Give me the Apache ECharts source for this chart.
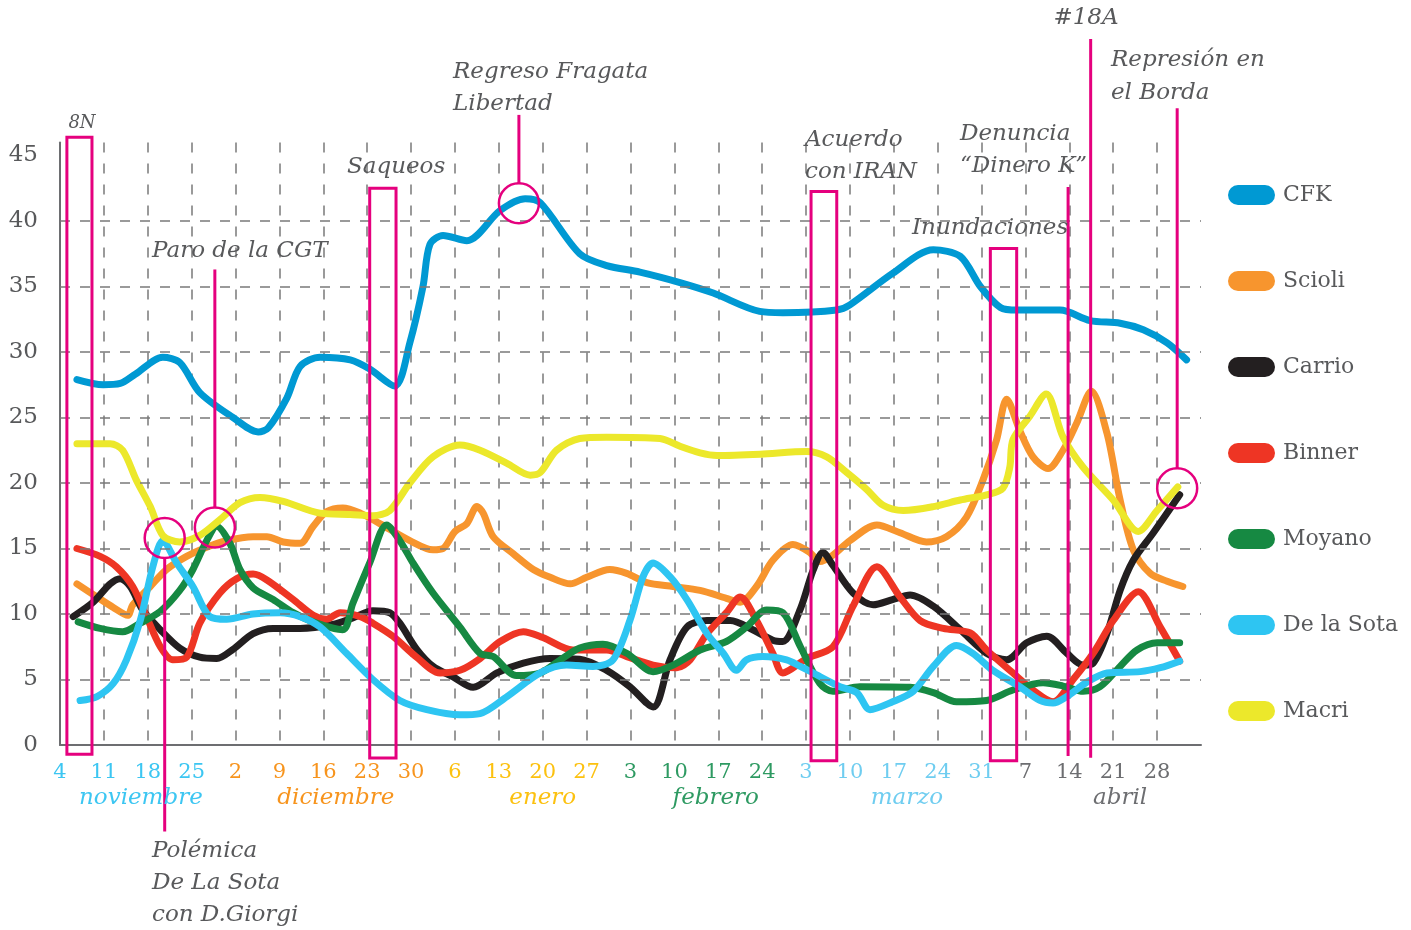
<!DOCTYPE html>
<html>
<head>
<meta charset="utf-8">
<script src="https://cdn.jsdelivr.net/npm/echarts@6/dist/echarts.min.js"></script>
<style>
  html, body { margin: 0; padding: 0; background: #fff; }
  #chart { width: 1411px; height: 930px; }
</style>
</head>
<body>
<div id="chart"></div>
<script>
// Encuesta de imagen: noviembre 2012 - abril 2013 (x = días desde el 4 de noviembre)

const weekLabels = ['4', '11', '18', '25', '2', '9', '16', '23', '30', '6', '13', '20', '27',
    '3', '10', '17', '24', '3', '10', '17', '24', '31', '7', '14', '21', '28'];
const weekMonth = [0, 0, 0, 0, 1, 1, 1, 1, 1, 2, 2, 2, 2, 3, 3, 3, 3, 4, 4, 4, 4, 4, 5, 5, 5, 5];
const monthNames = ['noviembre', 'diciembre', 'enero', 'febrero', 'marzo', 'abril'];
const monthCenters = [12.9, 44.0, 77.0, 104.6, 135.1, 169.1];
const monthColors = ['#3cc6f2', '#f7941d', '#fcc10f', '#2e9a62', '#6fcdf0', '#6d6e71'];

const yGridValues = [5, 10, 15, 20, 25, 30, 35, 40];

const seriesNames = ['CFK', 'Scioli', 'Carrio', 'Binner', 'Moyano', 'De la Sota', 'Macri'];
const seriesColors = ['#0099d3', '#f7952e', '#231f20', '#ee3524', '#168942', '#2ec5f2', '#ece82b'];

const cfk = [[2.7,27.9],[6.9,27.5],[9.6,27.6],[12.0,28.3],[16.4,29.6],[19.1,29.2],[22.3,26.9],[27.6,25.0],
    [31.6,23.9],[33.2,24.2],[36.2,26.5],[38.3,28.9],[41.5,29.6],[46.3,29.4],[49.4,28.7],[53.4,27.4],
    [55.8,30.7],[57.9,35.0],[59.0,38.2],[61.1,38.9],[64.9,38.5],[70.2,40.8],[74.2,41.7],[76.6,41.4],
    [82.9,37.5],[87.2,36.6],[92.5,36.1],[98.9,35.3],[104.2,34.5],[111.6,33.1],[115.3,33.0],[123.9,33.2],
    [126.0,33.6],[132.8,36.0],[139.3,37.8],[143.6,37.3],[146.8,35.0],[150.0,33.4],[152.7,33.2],
    [159.5,33.2],[164.3,32.4],[169.1,32.2],[172.8,31.7],[176.6,30.7],[179.7,29.4]];

const scioli = [[2.7,12.3],[5.9,11.3],[8.5,10.5],[10.8,9.9],[11.6,10.7],[14.4,12.1],[17.0,13.4],[20.2,14.4],
    [23.4,15.1],[26.6,15.6],[30.8,15.9],[33.0,15.9],[35.6,15.5],[38.3,15.4],[40.4,16.7],[42.5,17.8],
    [45.1,18.1],[47.9,17.7],[51.0,16.9],[55.8,15.6],[59.5,14.9],[61.1,15.0],[63.0,16.3],[64.9,16.9],
    [66.5,18.2],[67.5,17.7],[69.1,15.9],[72.3,14.6],[75.5,13.4],[78.2,12.8],[81.4,12.3],[84.0,12.8],
    [87.7,13.4],[90.4,13.1],[93.6,12.4],[97.8,12.1],[102.1,11.8],[106.3,11.2],[108.5,10.9],[111.1,12.1],
    [113.7,14.1],[116.9,15.3],[119.6,14.7],[121.2,14.0],[123.3,14.5],[126.0,15.6],[130.3,16.8],[134.0,16.2],
    [138.2,15.5],[141.4,15.9],[144.6,17.4],[147.2,20.2],[149.4,23.3],[151.0,26.4],[153.1,24.0],[155.2,22.0],
    [157.6,21.1],[160.0,22.5],[162.2,24.6],[164.5,27.0],[167.0,23.8],[169.1,18.7],[171.2,14.9],[173.9,13.1],
    [176.6,12.5],[179.1,12.1]];

const carrio = [[2.1,9.8],[5.3,10.9],[8.0,12.3],[9.6,12.7],[11.2,12.1],[13.2,10.3],[16.0,8.8],[19.1,7.4],
    [22.3,6.7],[25.0,6.6],[27.6,7.3],[30.8,8.5],[34.0,8.9],[38.3,8.9],[43.5,9.2],[46.7,9.7],[49.9,10.25],
    [52.6,10.1],[54.2,9.3],[56.9,7.3],[59.5,6.0],[62.7,5.2],[65.9,4.4],[69.7,5.5],[73.9,6.25],[78.2,6.6],
    [82.9,6.55],[87.2,5.7],[90.9,4.45],[94.6,2.9],[97.3,6.5],[100.0,9.0],[103.2,9.5],[106.9,9.5],[110.5,8.8],
    [113.7,8.0],[115.3,7.9],[118.1,10.4],[120.1,13.3],[121.7,14.7],[123.3,13.7],[126.5,11.6],[129.7,10.7],
    [132.8,11.1],[135.6,11.45],[139.3,10.6],[143.6,8.8],[147.8,7.0],[151.0,6.5],[154.2,7.8],[157.4,8.3],
    [160.6,7.0],[163.2,6.1],[164.8,6.25],[167.0,8.5],[169.1,11.8],[171.2,14.1],[174.4,16.2],[178.6,19.1]];

const binner = [[2.7,15.0],[6.4,14.4],[9.0,13.6],[11.6,12.1],[13.8,9.8],[16.0,7.5],[18.0,6.5],[20.2,6.7],
    [22.3,9.3],[25.5,11.6],[28.2,12.7],[30.8,13.05],[33.0,12.6],[37.2,11.1],[40.4,9.9],[42.5,9.6],[44.7,10.1],
    [47.9,9.8],[49.9,9.3],[53.1,8.3],[56.9,6.7],[60.6,5.5],[63.8,5.7],[67.0,6.6],[70.2,7.9],[73.9,8.65],
    [77.0,8.2],[81.8,7.25],[87.2,7.25],[90.4,6.75],[94.6,6.1],[98.4,5.9],[100.5,6.5],[103.2,8.5],[106.3,10.1],
    [108.5,11.3],[111.1,9.5],[113.7,7.0],[115.3,5.5],[119.1,6.6],[123.3,7.5],[126.5,10.6],[130.3,13.6],
    [134.0,11.3],[137.2,9.5],[140.9,8.9],[145.2,8.55],[147.8,7.25],[152.0,5.5],[155.2,4.2],[158.4,3.3],
    [161.6,5.0],[164.8,7.0],[168.0,9.5],[172.0,11.7],[175.5,9.0],[178.6,6.4]];

const moyano = [[2.9,9.4],[6.4,8.9],[10.0,8.65],[12.8,9.3],[16.0,10.2],[19.1,11.8],[21.2,13.4],[23.4,15.6],
    [25.0,16.7],[27.1,15.4],[28.7,13.4],[30.8,12.0],[34.0,11.1],[37.2,10.1],[40.9,9.3],[45.1,8.8],[46.7,10.8],
    [49.4,13.9],[52.1,16.8],[54.2,15.6],[56.3,13.9],[59.5,11.6],[63.8,9.0],[67.0,7.0],[69.1,6.75],[72.8,5.3],
    [76.6,5.5],[79.8,6.5],[82.9,7.4],[86.6,7.7],[90.4,7.0],[94.6,5.6],[97.8,6.1],[102.1,7.25],[106.3,7.9],
    [109.5,9.0],[112.7,10.3],[115.3,10.1],[118.1,7.5],[121.2,4.7],[123.3,4.1],[127.6,4.45],[135.6,4.4],
    [139.3,4.0],[143.0,3.3],[147.8,3.4],[152.0,4.2],[156.8,4.75],[160.0,4.5],[163.2,4.1],[165.9,4.45],
    [169.1,6.0],[171.8,7.25],[175.0,7.8],[178.6,7.8]];

const delaSota = [[3.2,3.4],[5.9,3.7],[8.5,4.7],[10.6,6.5],[12.8,9.5],[14.8,13.6],[16.4,15.6],[18.6,13.9],
    [21.2,12.1],[23.9,9.8],[26.6,9.6],[30.8,10.0],[35.1,10.1],[38.3,9.8],[41.5,9.0],[45.7,7.0],[49.9,5.0],
    [54.2,3.4],[58.5,2.7],[63.8,2.3],[67.0,2.4],[71.3,3.7],[76.6,5.5],[80.8,6.1],[85.0,6.0],[88.2,6.5],
    [90.9,9.5],[93.0,12.85],[94.6,13.9],[97.3,12.85],[100.0,11.1],[103.2,8.5],[105.8,7.0],[107.9,5.7],
    [109.5,6.5],[112.1,6.75],[115.9,6.5],[118.1,6.0],[120.1,5.5],[124.4,4.45],[127.1,4.0],[129.2,2.7],
    [132.8,3.3],[136.1,4.1],[139.3,6.0],[143.0,7.6],[145.6,7.0],[148.8,5.7],[153.1,4.45],[156.3,3.4],
    [158.4,3.2],[160.6,3.7],[163.8,4.8],[167.0,5.5],[172.3,5.6],[175.5,5.9],[178.6,6.4]];

const macri = [[2.7,23.0],[8.0,23.0],[10.0,22.5],[12.2,20.2],[14.4,18.2],[16.4,16.0],[19.1,15.5],[22.3,16.0],
    [25.5,17.2],[28.7,18.5],[31.9,18.9],[35.6,18.6],[41.5,17.7],[46.3,17.6],[49.9,17.5],[52.6,17.9],
    [55.8,20.0],[59.5,22.0],[63.8,22.9],[67.0,22.5],[71.3,21.5],[75.0,20.6],[76.6,20.8],[79.2,22.5],
    [82.9,23.4],[87.2,23.5],[95.7,23.4],[98.9,22.8],[102.1,22.3],[104.8,22.1],[111.7,22.2],[119.1,22.4],
    [122.3,22.0],[125.5,20.8],[128.7,19.5],[131.3,18.3],[134.5,17.9],[139.3,18.2],[143.6,18.7],[147.8,19.1],
    [150.4,19.6],[151.5,21.2],[152.0,23.3],[154.7,25.1],[157.3,26.8],[160.0,23.5],[163.2,21.2],[168.0,18.7],
    [172.0,16.3],[175.0,17.9],[178.3,19.7]];

const seriesData = [cfk, scioli, carrio, binner, moyano, delaSota, macri];

// eventos: recuadros (desde/hasta en días, arriba/abajo en %)
const boxes = [
    { from: 1.1, to: 5.1, top: 46.4, bottom: -0.7 },
    { from: 49.4, to: 53.6, top: 42.5, bottom: -1.0 },
    { from: 119.8, to: 123.9, top: 42.25, bottom: -1.2 },
    { from: 148.4, to: 152.6, top: 37.9, bottom: -1.2 }
];
// eventos: líneas con o sin círculo
const pins = [
    { day: 24.7, from: 36.3, circle: 16.6 },
    { day: 16.7, to: -6.6, circle: 15.8 },
    { day: 73.2, from: 48.1, circle: 41.35 },
    { day: 160.8, from: 42.6, to: -0.84 },
    { day: 164.4, from: 53.9, to: -0.97 },
    { day: 178.2, from: 48.6, circle: 19.6 }
];

const FONT = '"DejaVu Serif", serif';
const PINK = '#e5007e';
const GREY = '#58595b';

const pillIcon = 'path://M10,0L37,0A10,10,0,0,1,37,20L10,20A10,10,0,0,1,10,0Z';

const rich = {};
monthColors.forEach((c, i) => {
    rich['m' + i] = { color: c, fontSize: 21, fontFamily: FONT };
});

const chart = echarts.init(document.getElementById('chart'));

const series = [{
    type: 'line',
    data: [],
    z: 1,
    silent: true,
    markLine: {
        silent: true,
        symbol: 'none',
        animation: false,
        label: { show: false },
        lineStyle: { color: '#7a7a7a', type: [10, 10], width: 1.5 },
        data: yGridValues.map(v => ({ yAxis: v }))
    }
}];
seriesNames.forEach((name, i) => {
    series.push({
        name: name,
        type: 'line',
        data: seriesData[i],
        smooth: 0.3,
        showSymbol: false,
        z: 3,
        itemStyle: { color: seriesColors[i] },
        lineStyle: { color: seriesColors[i], width: 7, cap: 'round', join: 'round' }
    });
});

chart.setOption({
    animation: false,
    textStyle: { fontFamily: FONT },
    grid: { left: 60, right: 210, top: 142.4, bottom: 185, containLabel: false },
    legend: {
        data: seriesNames,
        orient: 'vertical',
        left: 1223,
        top: 179,
        itemWidth: 47,
        itemHeight: 20,
        itemGap: 64,
        icon: pillIcon,
        selectedMode: false,
        textStyle: { fontFamily: FONT, fontSize: 22, color: GREY, lineHeight: 20, padding: [0, 0, 0, 3] }
    },
    xAxis: {
        type: 'value',
        min: 0,
        max: 182,
        interval: 7,
        axisLine: { show: true, lineStyle: { color: '#6d6e71', width: 2 } },
        axisTick: { show: false },
        splitLine: { show: true, showMaxLine: false, lineStyle: { color: '#7a7a7a', type: [10, 11], width: 1.5 } },
        axisLabel: {
            margin: 17,
            formatter: function (v) {
                const idx = Math.round(v / 7);
                if (idx >= weekLabels.length) return '';
                return '{m' + weekMonth[idx] + '|' + weekLabels[idx] + '}';
            },
            rich: rich
        }
    },
    yAxis: {
        type: 'value',
        min: 0,
        max: 46,
        interval: 5,
        axisLine: { show: true, lineStyle: { color: '#6d6e71', width: 2 } },
        axisTick: { show: false },
        splitLine: { show: false },
        axisLabel: {
            margin: 22,
            color: GREY,
            fontSize: 23,
            fontFamily: FONT,
            formatter: v => (v % 5 === 0 ? String(v) : '')
        }
    },
    series: series
});

// anotaciones
const px = (d, v) => chart.convertToPixel({ xAxisIndex: 0, yAxisIndex: 0 }, [d, v]);
const graphics = [];
const R = 20;

boxes.forEach(b => {
    const p1 = px(b.from, b.top);
    const p2 = px(b.to, b.bottom);
    graphics.push({
        type: 'rect', z: 10, silent: true,
        shape: { x: p1[0], y: p1[1], width: p2[0] - p1[0], height: p2[1] - p1[1] },
        style: { fill: 'none', stroke: PINK, lineWidth: 3 }
    });
});

pins.forEach(p => {
    let c = null;
    if (p.circle !== undefined) {
        c = px(p.day, p.circle);
        graphics.push({
            type: 'circle', z: 10, silent: true,
            shape: { cx: c[0], cy: c[1], r: R },
            style: { fill: 'none', stroke: PINK, lineWidth: 2.5 }
        });
    }
    let y1, y2;
    const x = px(p.day, 0)[0];
    if (p.from !== undefined && p.to !== undefined) {
        y1 = px(p.day, p.from)[1]; y2 = px(p.day, p.to)[1];
    } else if (p.from !== undefined) {
        y1 = px(p.day, p.from)[1]; y2 = c[1] - R;
    } else {
        y1 = c[1] + R; y2 = px(p.day, p.to)[1];
    }
    graphics.push({
        type: 'line', z: 10, silent: true,
        shape: { x1: x, y1: y1, x2: x, y2: y2 },
        style: { stroke: PINK, lineWidth: 3 }
    });
});

function note(text, x, y, opts) {
    opts = opts || {};
    graphics.push({
        type: 'text', z: 11, silent: true, x: x, y: y,
        style: {
            text: text,
            fill: opts.fill || GREY,
            fontFamily: FONT,
            fontStyle: opts.fontStyle || 'italic',
            fontSize: opts.size || 23,
            lineHeight: opts.lineHeight || 32,
            align: opts.align || 'left',
            verticalAlign: opts.verticalAlign || 'top'
        }
    });
}

note('8N', 82, 123, { size: 18, align: 'center', verticalAlign: 'middle' });
note('Saqueos', 347, 167, { verticalAlign: 'middle' });
note('Paro de la CGT', 152, 251, { verticalAlign: 'middle' });
note('Polémica\nDe La Sota\ncon D.Giorgi', 152, 835);
note('Regreso Fragata\nLibertad', 453, 56);
note('Acuerdo\ncon IRAN', 805, 124);
note('Inundaciones', 912, 228, { verticalAlign: 'middle' });
note('Denuncia\n“Dinero K”', 960, 118);
note('#18A', 1086, 18, { align: 'center', verticalAlign: 'middle' });
note('Represión en\nel Borda', 1111, 44, { lineHeight: 33 });

// nombres de los meses
monthNames.forEach((m, i) => {
    const x = px(monthCenters[i], 0)[0];
    note(m, x, 798, { fill: monthColors[i], align: 'center', verticalAlign: 'middle', size: 23 });
});

chart.setOption({ graphic: graphics });
</script>
</body>
</html>
